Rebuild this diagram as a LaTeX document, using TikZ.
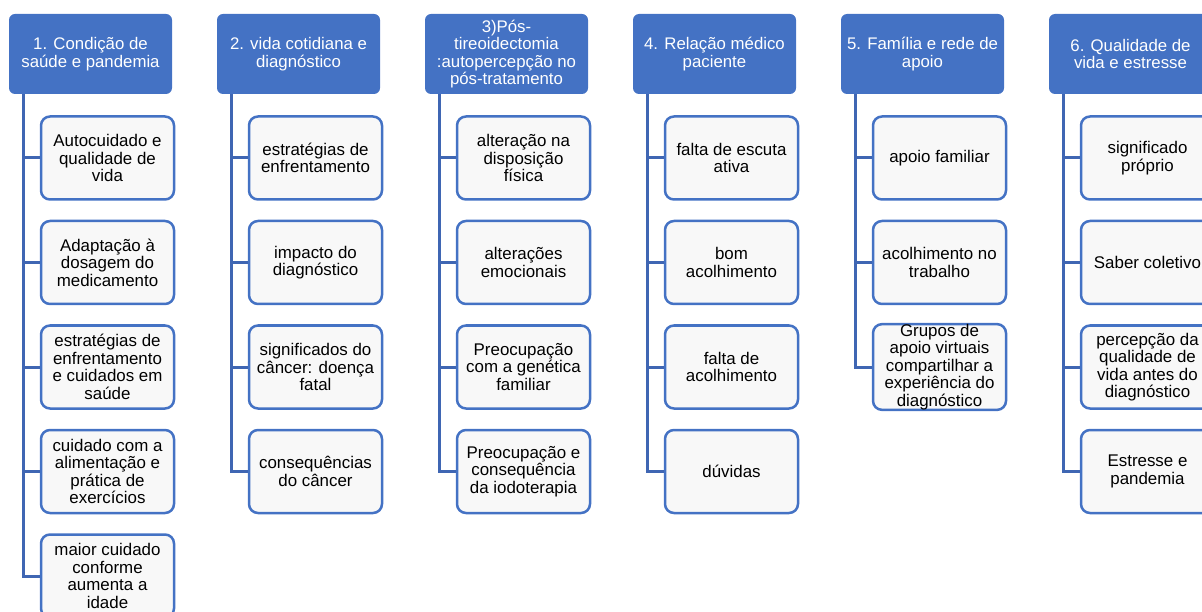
\documentclass[tikz,border=0pt]{standalone}
\usepackage{fontspec}
\setmainfont{Liberation Sans}
\definecolor{hdr}{HTML}{4472C4}
\definecolor{lin}{HTML}{3F66B3}
\definecolor{boxfill}{HTML}{F8F8F8}
\begin{document}
\begin{tikzpicture}[x=1pt,y=-1pt,
  hdrbox/.style={fill=hdr, draw=none, rounded corners=6pt, minimum width=163pt, minimum height=80pt, text=white, align=center, font=\fontsize{16.8}{17.5}\selectfont, inner sep=0pt},
  itembox/.style={fill=boxfill, draw=hdr, line width=2.5pt, rounded corners=9pt, minimum width=133pt, minimum height=83pt, align=center, font=\fontsize{16.9}{17.5}\selectfont, inner sep=0pt},
  link/.style={draw=lin, line width=3pt}]
\useasboundingbox (0,0) rectangle (1202,612);
\clip (0,0) rectangle (1202,612);
% column 1
\node[hdrbox] (h1) at (90.5,54) {1. Condição de\\saúde e pandemia};
\node[itembox] (c1a) at (107.5,158) {Autocuidado e\\qualidade de\\vida};
\node[itembox] (c1b) at (107.5,262.5) {Adaptação à\\dosagem do\\medicamento};
\node[itembox] (c1c) at (107.5,367) {estratégias de\\enfrentamento\\e cuidados em\\saúde};
\node[itembox] (c1d) at (107.5,471.5) {cuidado com a\\alimentação e\\prática de\\exercícios};
\node[itembox] (c1e) at (107.5,576) {maior cuidado\\conforme\\aumenta a\\idade};
% column 2
\node[hdrbox] (h2) at (298.5,54) {2. vida cotidiana e\\diagnóstico};
\node[itembox] (c2a) at (315.5,158) {estratégias de\\enfrentamento};
\node[itembox] (c2b) at (315.5,262.5) {impacto do\\diagnóstico};
\node[itembox] (c2c) at (315.5,367) {significados do\\câncer: doença\\fatal};
\node[itembox] (c2d) at (315.5,471.5) {consequências\\do câncer};
% column 3
\node[hdrbox] (h3) at (506.5,54) {3)Pós-\\tireoidectomia\\:autopercepção no\\pós-tratamento};
\node[itembox] (c3a) at (523.5,158) {alteração na\\disposição\\física};
\node[itembox] (c3b) at (523.5,262.5) {alterações\\emocionais};
\node[itembox] (c3c) at (523.5,367) {Preocupação\\com a genética\\familiar};
\node[itembox] (c3d) at (523.5,471.5) {Preocupação e\\consequência\\da iodoterapia};
% column 4
\node[hdrbox] (h4) at (714.5,54) {4. Relação médico\\paciente};
\node[itembox] (c4a) at (731.5,158) {falta de escuta\\ativa};
\node[itembox] (c4b) at (731.5,262.5) {bom\\acolhimento};
\node[itembox] (c4c) at (731.5,367) {falta de\\acolhimento};
\node[itembox] (c4d) at (731.5,471.5) {dúvidas};
% column 5
\node[hdrbox] (h5) at (922.5,54) {5. Família e rede de\\apoio};
\node[itembox] (c5a) at (939.5,158) {apoio familiar};
\node[itembox] (c5b) at (939.5,262.5) {acolhimento no\\trabalho};
\node[itembox] (c5c) at (939.5,367) {Grupos de\\apoio virtuais\\compartilhar a\\experiência do\\diagnóstico};
% column 6
\node[hdrbox] (h6) at (1130.5,54) {6. Qualidade de\\vida e estresse};
\node[itembox] (c6a) at (1147.5,158) {significado\\próprio};
\node[itembox] (c6b) at (1147.5,262.5) {Saber coletivo};
\node[itembox] (c6c) at (1147.5,367) {percepção da\\qualidade de\\vida antes do\\diagnóstico};
\node[itembox] (c6d) at (1147.5,471.5) {Estresse e\\pandemia};
% connectors
\foreach \c in {a,b,c,d,e} \draw[link] ([xshift=15pt]h1.south west) |- (c1\c.west);
\foreach \c in {a,b,c,d} \draw[link] ([xshift=15pt]h2.south west) |- (c2\c.west);
\foreach \c in {a,b,c,d} \draw[link] ([xshift=15pt]h3.south west) |- (c3\c.west);
\foreach \c in {a,b,c,d} \draw[link] ([xshift=15pt]h4.south west) |- (c4\c.west);
\foreach \c in {a,b,c} \draw[link] ([xshift=15pt]h5.south west) |- (c5\c.west);
\foreach \c in {a,b,c,d} \draw[link] ([xshift=15pt]h6.south west) |- (c6\c.west);
\end{tikzpicture}
\end{document}
